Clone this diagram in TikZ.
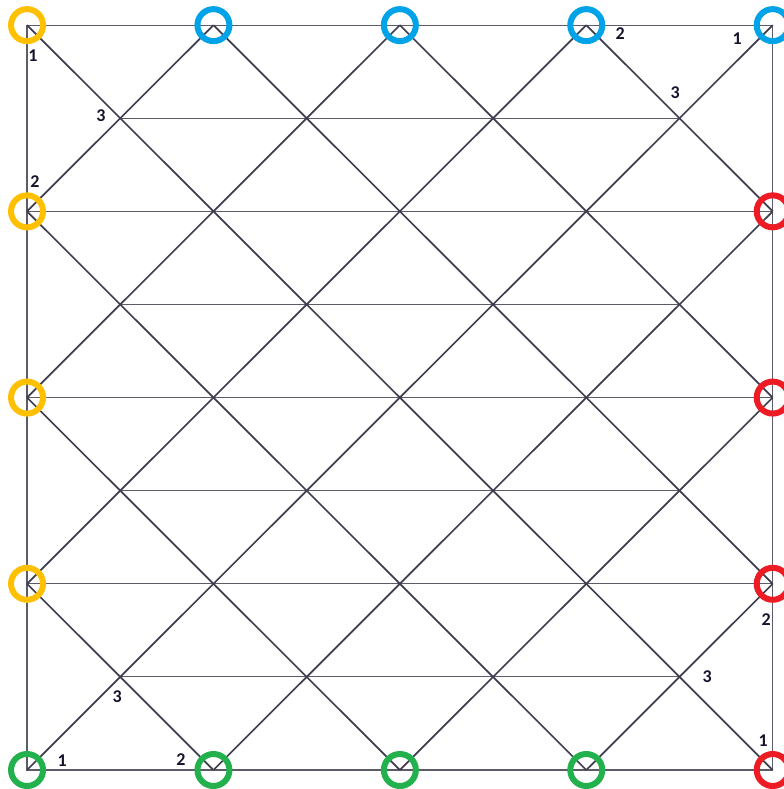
\documentclass[tikz,border=0pt]{standalone}
\usepackage{fontspec}
\setmainfont{Carlito}
\definecolor{ringyellow}{RGB}{255,192,0}
\definecolor{ringblue}{RGB}{0,162,232}
\definecolor{ringred}{RGB}{237,28,36}
\definecolor{ringgreen}{RGB}{34,177,76}
\definecolor{membergray}{RGB}{62,62,78}
\definecolor{labelnavy}{RGB}{20,20,45}

\begin{document}
\begin{tikzpicture}[x=93.2pt, y=93.1pt,
    member/.style={membergray, line width=1.7pt},
    tie/.style={membergray!85, line width=1.2pt},
    ring/.style={circle, draw=#1, line width=6pt, minimum size=32pt, inner sep=0pt},
    lbl/.style={font=\bfseries\fontsize{18}{18}\selectfont, text=labelnavy, inner sep=0pt}]
  \useasboundingbox (-0.29,-0.204) rectangle (8.12,8.27);

  % ---- Grid points ----
  \foreach \i in {0,...,8}
    \foreach \j in {0,...,8}
      \coordinate (p\i\j) at (\i,\j);

  % ---- Outer frame ----
  \draw[tie] (p00) -- (p80) -- (p88) -- (p08) -- cycle;

  % ---- Horizontal members ----
  \foreach \j in {2,4,6}
    \draw[tie] (p0\j) -- (p8\j);
  \foreach \j in {1,3,5,7}
    \draw[tie] (p1\j) -- (p7\j);

  % ---- Diagonals rising to the right ----
  \foreach \s in {2,4,...,14} {
    \pgfmathtruncatemacro\ia{max(0,\s-8)}
    \pgfmathtruncatemacro\ja{min(8,\s)}
    \draw[member] (p\ia\ja) -- (p\ja\ia);
  }

  % ---- Diagonals falling to the right ----
  \foreach \d in {-6,-4,...,6} {
    \pgfmathtruncatemacro\ia{max(0,\d)}
    \pgfmathtruncatemacro\ja{max(0,-\d)}
    \pgfmathtruncatemacro\ib{min(8,8+\d)}
    \pgfmathtruncatemacro\jb{min(8,8-\d)}
    \draw[member] (p\ia\ja) -- (p\ib\jb);
  }

  % ---- Support rings ----
  \foreach \j in {8,6,4,2}
    \node[ring=ringyellow] (west\j) at (p0\j) {};
  \foreach \i in {2,4,6,8}
    \node[ring=ringblue] (north\i) at (p\i8) {};
  \foreach \j in {6,4,2,0}
    \node[ring=ringred] (east\j) at (p8\j) {};
  \foreach \i in {0,2,4,6}
    \node[ring=ringgreen] (south\i) at (p\i0) {};

  % ---- Corner numbering ----
  \node[lbl] (nw1) at (0.064,7.669) {1};
  \node[lbl] (nw2) at (0.086,6.316) {2};
  \node[lbl] (nw3) at (0.794,7.025) {3};
  \node[lbl] (ne1) at (7.618,7.852) {1};
  \node[lbl] (ne2) at (6.363,7.905) {2};
  \node[lbl] (ne3) at (6.953,7.272) {3};
  \node[lbl] (sw1) at (0.376,0.097) {1};
  \node[lbl] (sw2) at (1.652,0.107) {2};
  \node[lbl] (sw3) at (0.966,0.784) {3};
  \node[lbl] (se1) at (7.897,0.311) {1};
  \node[lbl] (se2) at (7.929,1.611) {2};
  \node[lbl] (se3) at (7.296,0.999) {3};

\end{tikzpicture}
\end{document}
